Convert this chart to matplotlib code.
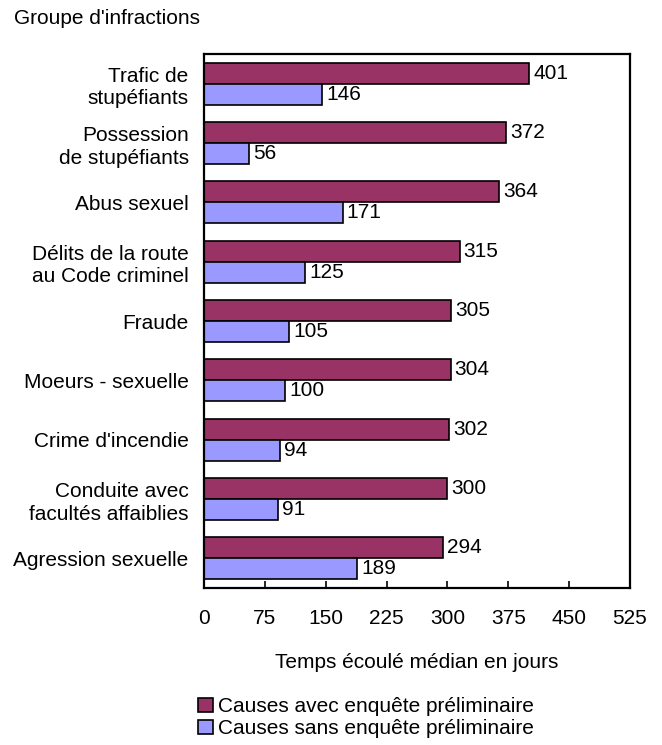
import numpy as np
import matplotlib.pyplot as plt

# Median elapsed time by offence group, with / without preliminary inquiry

plt.rcParams['font.family'] = ['Liberation Sans', 'DejaVu Sans']

categories = ["Trafic de\nstupéfiants", "Possession\nde stupéfiants", "Abus sexuel",
              "Délits de la route\nau Code criminel", "Fraude", "Moeurs - sexuelle",
              "Crime d'incendie", "Conduite avec\nfacultés affaiblies", "Agression sexuelle"]
avec_enquete = [401, 372, 364, 315, 305, 304, 302, 300, 294]
sans_enquete = [146, 56, 171, 125, 105, 100, 94, 91, 189]
xticks = [0, 75, 150, 225, 300, 375, 450, 525]

col_avec = '#993366'
col_sans = '#9999FF'
fs = 15

fig = plt.figure(figsize=(6.62, 7.45), dpi=100)
ax = fig.add_axes([204/662, 1 - 588/745, (630-204)/662, (588-54)/745])

y = np.arange(len(categories))
h = 0.355

b1 = ax.barh(y - h/2, avec_enquete, height=h, color=col_avec, edgecolor='black',
             linewidth=1.2, label='Causes avec enquête préliminaire')
b2 = ax.barh(y + h/2, sans_enquete, height=h, color=col_sans, edgecolor='black',
             linewidth=1.2, label='Causes sans enquête préliminaire')

for bars, vals in [(b1, avec_enquete), (b2, sans_enquete)]:
    for bar, v in zip(bars, vals):
        ax.text(v + 5, bar.get_y() + bar.get_height()/2, str(v),
                va='center', ha='left', fontsize=fs)

ax.set_ylim(len(categories) - 0.5, -0.5)
ax.set_xlim(0, 525)
ax.set_yticks(y)
ax.set_yticklabels(categories, fontsize=fs, multialignment='right', linespacing=1.25)
ax.tick_params(axis='y', length=0, pad=11)
ax.set_xticks(xticks)
ax.set_xticklabels([str(t) for t in xticks], fontsize=fs)
ax.tick_params(axis='x', direction='in', length=5, width=1.2, pad=15)

for s in ax.spines.values():
    s.set_linewidth(1.6)

ax.set_xlabel('Temps écoulé médian en jours', fontsize=fs, labelpad=18)
fig.text(14/662, 1 - 19/745, "Groupe d'infractions", fontsize=fs, va='center', ha='left')

fig.legend(handles=[b1, b2], loc='upper left', bbox_to_anchor=(190/662, 1 - 689/745),
           frameon=False, fontsize=fs, handlelength=0.7, handleheight=0.7,
           handletextpad=0.25, labelspacing=0.15, borderaxespad=0)

fig.savefig('out.png', dpi=100)
